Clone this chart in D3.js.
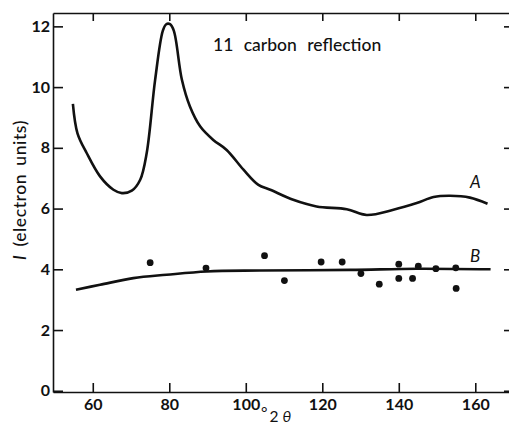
<html>
<head>
<meta charset="utf-8">
<script src="https://cdn.jsdelivr.net/npm/d3@7"></script>
<style>
body { margin: 0; background: #fff; }
text { font-family: Lato, "DejaVu Sans", sans-serif; fill: #111; }
</style>
</head>
<body>
<script>

// curve A (upper trace), [2theta, I]
var curveA = [
  [54.8, 9.45], [56, 8.48], [58.4, 7.83], [61.9, 7.06], [65.4, 6.62], [67.6, 6.51],
  [70.2, 6.59], [72.4, 6.95], [74.1, 7.83], [76.3, 10.24], [78.3, 11.85], [79.2, 12.07],
  [80.2, 12.07], [81.2, 11.85], [83.3, 10.24], [85.4, 9.36], [88.1, 8.70], [91.5, 8.26], [95, 7.93],
  [99.4, 7.28], [103.3, 6.78], [106.4, 6.62], [112.4, 6.29], [118.5, 6.07], [126.4, 5.98],
  [131.6, 5.79], [138.6, 5.96], [144.7, 6.18], [149.1, 6.38], [153.4, 6.42], [158.6, 6.36],
  [163.2, 6.16]
]

// curve B (lower, smooth)
var curveB = [
  [55.6, 3.33], [61.9, 3.49], [70.6, 3.71], [79.3, 3.82], [89.8, 3.93], [103.7, 3.96],
  [127.3, 3.98], [144.7, 4.02], [164, 4.0]
]

// measured points
var dotX = [75, 89.6, 104.9, 110.1, 119.7, 125.2, 130.1, 134.9, 140, 140, 143.6, 145.1, 149.7, 154.9, 155]
var dotY = [4.22, 4.04, 4.45, 3.63, 4.24, 4.24, 3.86, 3.51, 4.17, 3.70, 3.70, 4.10, 4.02, 4.05, 3.37]

var xTicks = [60, 80, 100, 120, 140, 160]
var yTicks = [0, 2, 4, 6, 8, 10, 12]

var W = 509, H = 427
var mLeft = 53, mRight = 512, mTop = 13, mBottom = 392

var svg = d3.select("body").append("svg").attr("width", W).attr("height", H)

var x = d3.scaleLinear().domain([49.6, 169.6]).range([mLeft, mRight])
var y = d3.scaleLinear().domain([-0.04, 12.44]).range([mBottom, mTop])

// frame
svg.append("g").attr("transform", "translate(0," + mBottom + ")")
  .call(d3.axisBottom(x).tickValues(xTicks).tickSizeInner(-9).tickSizeOuter(0).tickPadding(4))
  .call(g => g.selectAll("text").attr("dy", "0.9em"))
svg.append("g").attr("transform", "translate(0," + mTop + ")")
  .call(d3.axisTop(x).tickValues(xTicks).tickSizeInner(-8).tickSizeOuter(0).tickFormat(""))
svg.append("g").attr("transform", "translate(" + mLeft + ",0)")
  .call(d3.axisLeft(y).tickValues(yTicks).tickSizeInner(-10).tickSizeOuter(0).tickPadding(3))
svg.append("g").attr("transform", "translate(" + mRight + ",0)")
  .call(d3.axisRight(y).tickValues(yTicks).tickSizeInner(-8).tickSizeOuter(0).tickFormat(""))

svg.selectAll(".domain").attr("stroke", "#111").attr("stroke-width", 1.6)
svg.selectAll(".tick line").attr("stroke", "#111").attr("stroke-width", 1.6)
svg.selectAll(".tick text").style("font-size", "16px").style("font-weight", "bold")
  .style("font-family", "Lato, sans-serif").attr("fill", "#111")

var line = d3.line().x(d => x(d[0])).y(d => y(d[1])).curve(d3.curveCatmullRom)

svg.append("path").datum(curveA).attr("d", line)
  .attr("fill", "none").attr("stroke", "#111").attr("stroke-width", 2.6)
svg.append("path").datum(curveB).attr("d", line)
  .attr("fill", "none").attr("stroke", "#111").attr("stroke-width", 2.6)

svg.selectAll(".dot").data(dotX).enter().append("circle")
  .attr("class", "dot")
  .attr("cx", d => x(d))
  .attr("cy", (d, i) => y(dotY[i]))
  .attr("r", 3.4)
  .attr("fill", "#111")

// labels
svg.append("text").attr("x", x(158.6)).attr("y", y(6.55) - 4)
  .style("font-size", "17px").style("font-style", "italic").text("A")
svg.append("text").attr("x", x(158.6)).attr("y", y(4.1) - 4)
  .style("font-size", "17px").style("font-style", "italic").text("B")

svg.append("text").attr("x", 213).attr("y", 51)
  .style("font-size", "17.5px").style("font-weight", 500)
  .attr("word-spacing", "6px").text("11 carbon reflection")

var yl = svg.append("text")
  .attr("transform", "translate(26,190) rotate(-90)")
  .attr("text-anchor", "middle")
  .style("font-size", "17.5px").style("font-weight", 500)
  .attr("letter-spacing", "0.6px")
yl.append("tspan").style("font-style", "italic").text("I")
yl.append("tspan").attr("word-spacing", "3px").text(" (electron units)")

var xl = svg.append("text").attr("x", 261).attr("y", 422).style("font-size", "15.5px")
xl.append("tspan").attr("dy", "-4").text("°")
xl.append("tspan").attr("dx", "2").attr("dy", "4").text("2 ")
xl.append("tspan").style("font-style", "italic").text("θ")

</script>
</body>
</html>
